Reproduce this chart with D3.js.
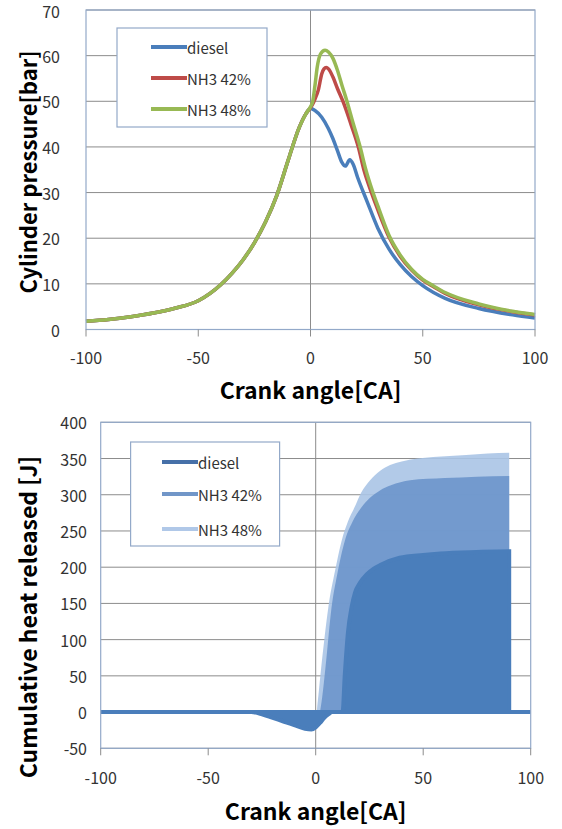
<!DOCTYPE html>
<html>
<head>
<meta charset="utf-8">
<script src="https://cdn.jsdelivr.net/npm/d3@7"></script>
<style>
  body { margin: 0; background: #fff; }
  svg { display: block; }
  text { font-family: "Noto Sans CJK KR", "Noto Sans", sans-serif; }
</style>
</head>
<body>
<div id="chart"></div>
<script>
// ---- cylinder pressure [bar] vs crank angle ----
// compression branch, shared by all three cases
const compAngle = [-100, -90, -80, -70, -60, -50, -40, -35, -30, -25, -20, -15, -10, -5, -2];
const compPressure = [1.8, 2.2, 2.8, 3.6, 4.7, 6.3, 9.8, 12.3, 15.3, 19.0, 23.6, 29.4, 37.0, 44.3, 47.3];

const dieselAngle = [0, 2, 5, 8, 10, 12, 14, 15.5, 17.5, 19, 21, 25, 30, 35, 40, 45, 50, 60, 75, 90, 100];
const dieselPressure = [48.4, 48, 46.5, 44, 41.8, 39.2, 36.6, 35.8, 37.2, 36.2, 33.3, 28.3, 22.2, 17.6, 14.2, 11.6, 9.6, 6.8, 4.6, 3.2, 2.5];

const nh3_42Angle = [0, 1, 2, 3.5, 5, 6, 7, 8, 10, 12, 14.6, 18, 21.3, 24, 27, 30, 35, 40, 45, 50, 55, 60, 75, 90, 100];
const nh3_42Pressure = [48.6, 49.4, 50.5, 52.5, 56, 57.1, 57.4, 57.1, 55.3, 52.8, 49.8, 45, 40, 34.6, 30.2, 26.2, 20.2, 16, 13, 10.8, 9.3, 7.9, 5.4, 3.9, 3.2];

const nh3_48Angle = [0, 1, 2, 3, 4.5, 6.5, 8, 10, 12, 14, 16, 19, 22, 24.5, 27.5, 30.5, 35, 40, 45, 50, 55, 60, 75, 90, 100];
const nh3_48Pressure = [48.8, 50, 53.5, 57.5, 60.4, 61.2, 60.8, 59.4, 56.8, 53.5, 50.4, 45.2, 40.2, 35.3, 30.5, 26.4, 20.6, 16.3, 13.2, 11, 9.5, 8.1, 5.6, 4, 3.3];

// ---- cumulative heat released [J] vs crank angle ----
// compression heat loss branch, shared
const negAngle = [-100, -30, -25, -20, -15, -10, -5, -2];
const negHeat = [0, 0, -3, -8, -13, -18, -23, -24];

const dieselHeatAngle = [0, 2, 4, 6, 7.5, 12.5, 13.5, 15, 16.7, 18.3, 20.5, 23.7, 27, 30, 39, 50, 58, 75, 90, 90.01, 100];
const dieselHeat = [-21, -15, -8, -3, 0, 0, 50, 110, 145, 165, 178, 190, 198, 203, 213, 217, 219, 221, 222, 0, 0];

const nh3_42HeatAngle = [0, 2, 3, 4.5, 7.4, 10, 13.6, 17, 21.4, 25, 29.9, 35, 43.9, 60, 75, 90, 90.01, 100];
const nh3_42Heat = [-20, 0, 20, 60, 145, 190, 237, 262, 283, 295, 306, 313, 320, 323, 325, 326, 0, 0];

const nh3_48HeatAngle = [0, 0.5, 1.5, 2.3, 4, 5.9, 9, 12.1, 15, 18.3, 21, 25.3, 30, 34.6, 40, 54.6, 70, 90, 90.01, 100];
const nh3_48Heat = [-20, 0, 30, 54, 100, 145, 195, 237, 263, 284, 302, 320, 333, 341, 346, 352, 355, 358, 0, 0];

const seriesNames = ["diesel", "NH3 42%", "NH3 48%"];
const xTicks = [-100, -50, 0, 50, 100];
const pTicks = [0, 10, 20, 30, 40, 50, 60, 70];
const hTicks = [-50, 0, 50, 100, 150, 200, 250, 300, 350, 400];

const zip = (a, b) => a.map((v, i) => ({ x: v, y: b[i] }));

const pressureSeries = [
  { name: seriesNames[0], color: "#4a7ebb", values: zip(compAngle.concat(dieselAngle), compPressure.concat(dieselPressure)) },
  { name: seriesNames[1], color: "#be4b48", values: zip(compAngle.concat(nh3_42Angle), compPressure.concat(nh3_42Pressure)) },
  { name: seriesNames[2], color: "#98b954", values: zip(compAngle.concat(nh3_48Angle), compPressure.concat(nh3_48Pressure)) }
];

const heatSeries = [
  { name: seriesNames[0], color: "#4a7ebb", legend: "#4670a8", values: zip(negAngle.concat(dieselHeatAngle), negHeat.concat(dieselHeat)) },
  { name: seriesNames[1], color: "#6b95cb", legend: "#7196c8", values: zip(negAngle.concat(nh3_42HeatAngle), negHeat.concat(nh3_42Heat)) },
  { name: seriesNames[2], color: "#aac4e6", legend: "#b0c8e8", values: zip(negAngle.concat(nh3_48HeatAngle), negHeat.concat(nh3_48Heat)) }
];

const svg = d3.select("#chart").append("svg")
  .attr("width", 562)
  .attr("height", 829);

const gridColor = "#8c8c8c";
const frameColor = "#93a9c9";

function grid(g, x, y, yTicks) {
  // horizontal gridlines
  g.selectAll("line.grid")
    .data(yTicks)
    .join("line")
    .attr("x1", x.range()[0]).attr("x2", x.range()[1])
    .attr("y1", d => y(d)).attr("y2", d => y(d))
    .attr("stroke", gridColor).attr("stroke-width", 1);

  // vertical line at 0
  g.append("line")
    .attr("x1", x(0)).attr("x2", x(0))
    .attr("y1", y.range()[1]).attr("y2", y.range()[0])
    .attr("stroke", gridColor).attr("stroke-width", 1);
}

function axes(g, x, y, yTicks, opts) {
  const [x0, x1] = x.range();
  const [yb, yt] = y.range();

  // plot frame
  g.append("rect")
    .attr("x", x0).attr("y", yt)
    .attr("width", x1 - x0).attr("height", yb - yt)
    .attr("fill", "none").attr("stroke", frameColor).attr("stroke-width", 1.2);

  g.selectAll("line.xtick")
    .data(xTicks)
    .join("line")
    .attr("x1", d => x(d)).attr("x2", d => x(d))
    .attr("y1", yb).attr("y2", yb + 7)
    .attr("stroke", gridColor);

  g.selectAll("text.xlab")
    .data(xTicks)
    .join("text")
    .attr("x", d => x(d)).attr("y", opts.xLabelY)
    .attr("text-anchor", "middle")
    .attr("dominant-baseline", "central")
    .attr("font-size", 16)
    .attr("fill", "#333")
    .text(d => d);

  g.selectAll("text.ylab")
    .data(yTicks)
    .join("text")
    .attr("x", opts.yLabelX).attr("y", d => Math.max(y(d), 11))
    .attr("text-anchor", "end")
    .attr("dominant-baseline", "central")
    .attr("font-size", 16)
    .attr("fill", "#333")
    .text(d => d);

  g.append("text")
    .attr("x", (x0 + x1) / 2).attr("y", opts.xTitleY)
    .attr("text-anchor", "middle")
    .attr("dominant-baseline", "central")
    .attr("font-size", 23)
    .attr("font-weight", "bold")
    .text(opts.xTitle);

  g.append("text")
    .attr("transform", `translate(27,${opts.yTitleCenter}) rotate(-90)`)
    .attr("text-anchor", "middle")
    .attr("dominant-baseline", "central")
    .attr("font-size", opts.yTitleSize)
    .attr("font-weight", "bold")
    .text(opts.yTitle);
}

function legend(g, items, box, lineX, rowsY, width) {
  g.append("rect")
    .attr("x", box[0]).attr("y", box[1])
    .attr("width", box[2]).attr("height", box[3])
    .attr("fill", "#fff").attr("stroke", frameColor).attr("stroke-width", 1.2);
  items.forEach((d, i) => {
    g.append("line")
      .attr("x1", lineX).attr("x2", lineX + 36)
      .attr("y1", rowsY[i]).attr("y2", rowsY[i])
      .attr("stroke", d.legend || d.color)
      .attr("stroke-width", width);
    g.append("text")
      .attr("x", lineX + 36).attr("y", rowsY[i])
      .attr("dominant-baseline", "central")
      .attr("font-size", 15)
      .attr("fill", "#333")
      .text(d.name);
  });
}

// ---------- top chart: cylinder pressure ----------
{
  const g = svg.append("g");
  const x = d3.scaleLinear().domain([-100, 100]).range([86, 535]);
  const y = d3.scaleLinear().domain([0, 70]).range([329.5, 10]);

  grid(g, x, y, pTicks);

  const line = d3.line()
    .x(d => x(d.x))
    .y(d => y(d.y))
    .curve(d3.curveMonotoneX);

  g.selectAll("path.series")
    .data(pressureSeries)
    .join("path")
    .attr("fill", "none")
    .attr("stroke", d => d.color)
    .attr("stroke-width", 3.5)
    .attr("stroke-linejoin", "round")
    .attr("d", d => line(d.values));

  axes(g, x, y, pTicks, {
    yLabelX: 60, xLabelY: 357, xTitle: "Crank angle[CA]", xTitleY: 389,
    yTitle: "Cylinder pressure[bar]", yTitleCenter: 172, yTitleSize: 22
  });
  legend(g, pressureSeries, [117, 28, 150, 99], 151, [47, 78, 109], 4);
}

// ---------- bottom chart: cumulative heat released ----------
{
  const g = svg.append("g");
  const x = d3.scaleLinear().domain([-100, 100]).range([100.7, 530.7]);
  const y = d3.scaleLinear().domain([-50, 400]).range([748.3, 422.3]);

  grid(g, x, y, hTicks);

  const area = d3.area()
    .x(d => x(d.x))
    .y0(y(0))
    .y1(d => y(d.y))
    .curve(d3.curveMonotoneX);

  // back to front: NH3 48%, NH3 42%, diesel
  const order = [heatSeries[2], heatSeries[1], heatSeries[0]];
  g.selectAll("path.area")
    .data(order)
    .join("path")
    .attr("fill", d => d.color)
    .attr("fill-opacity", d => d.name === "diesel" ? 1 : 0.9)
    .attr("stroke", d => d.name === "diesel" ? d.color : "none")
    .attr("stroke-width", 4)
    .attr("d", d => area(d.values));

  axes(g, x, y, hTicks, {
    yLabelX: 87, xLabelY: 777, xTitle: "Crank angle[CA]", xTitleY: 810,
    yTitle: "Cumulative heat released [J]", yTitleCenter: 617, yTitleSize: 23
  });
  legend(g, heatSeries, [130.6, 442, 149, 104], 162, [462, 494, 529], 4);
}
</script>
</body>
</html>
